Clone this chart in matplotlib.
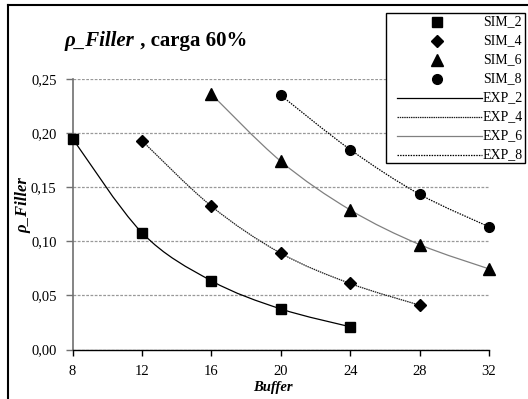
import numpy as np
import matplotlib
matplotlib.use("Agg")
import matplotlib.pyplot as plt
from matplotlib.path import Path
from matplotlib.patches import PathPatch, Rectangle
from matplotlib.lines import Line2D

plt.rcParams['font.family'] = ['Liberation Serif', 'DejaVu Serif']

# ---- data ----
buffer_2 = [8, 12, 16, 20, 24]
sim_2 = [0.195, 0.108, 0.0635, 0.0375, 0.021]
buffer_4 = [12, 16, 20, 24, 28]
sim_4 = [0.193, 0.1325, 0.089, 0.061, 0.041]
buffer_6 = [16, 20, 24, 28, 32]
sim_6 = [0.236, 0.174, 0.129, 0.097, 0.0745]
buffer_8 = [20, 24, 28, 32]
sim_8 = [0.235, 0.1848, 0.1435, 0.1134]

exp_2 = sim_2
exp_4 = sim_4
exp_6 = sim_6
exp_8 = sim_8

x_ticks = [8, 12, 16, 20, 24, 28, 32]
y_ticks = [0.00, 0.05, 0.10, 0.15, 0.20, 0.25]
y_tick_labels = ['0,00', '0,05', '0,10', '0,15', '0,20', '0,25']

sim_labels = ['SIM_2', 'SIM_4', 'SIM_6', 'SIM_8']
exp_labels = ['EXP_2', 'EXP_4', 'EXP_6', 'EXP_8']

W, H = 528, 399
fig = plt.figure(figsize=(W / 100, H / 100), dpi=100)
fig.patch.set_facecolor('white')


def fx(px):
    return px / W


def fy(py):
    return 1 - py / H


ax = fig.add_axes([fx(72.5), fy(349.5), (489 - 72.5) / W, (349.5 - 79) / H])
ax.set_xlim(8, 32)
ax.set_ylim(0, 0.25)
ax.set_xticks(x_ticks)
ax.set_xticklabels([str(t) for t in x_ticks])
ax.set_yticks(y_ticks)
ax.set_yticklabels(y_tick_labels)
ax.set_axisbelow(True)
ax.yaxis.grid(True, linestyle=(0, (2.2, 1.2)), color='#999999', linewidth=0.9)
for s in ['top', 'right']:
    ax.spines[s].set_visible(False)
ax.spines['left'].set_color('#707070')
ax.spines['left'].set_linewidth(1.2)
ax.spines['bottom'].set_color('black')
ax.spines['bottom'].set_linewidth(1.0)
ax.tick_params(axis='y', direction='out', length=5, width=1, color='#707070', pad=6.5, labelsize=10.5)
ax.tick_params(axis='x', direction='out', length=4, width=1, color='black', pad=7, labelsize=10.5)


def smooth_path(xs, ys):
    P = np.column_stack([xs, ys]).astype(float)
    n = len(P)
    verts = [P[0]]
    codes = [Path.MOVETO]
    for i in range(n - 1):
        p0 = P[i - 1] if i > 0 else P[i]
        p1 = P[i]
        p2 = P[i + 1]
        p3 = P[i + 2] if i + 2 < n else P[i + 1]
        c1 = p1 + (p2 - p0) / 6.0
        c2 = p2 - (p3 - p1) / 6.0
        verts += [c1, c2, p2]
        codes += [Path.CURVE4] * 3
    return Path(verts, codes)


line_styles = [
    dict(color='black', lw=0.9, ls='-'),
    dict(color='#202020', lw=0.9, ls=(0, (1.2, 0.6))),
    dict(color='#808080', lw=0.9, ls='-'),
    dict(color='black', lw=0.9, ls=(0, (1.2, 0.9))),
]
markers = [('s', 7), ('D', 6.5), ('^', 8), ('o', 7)]

xs_all = [buffer_2, buffer_4, buffer_6, buffer_8]
exp_all = [exp_2, exp_4, exp_6, exp_8]
sim_all = [sim_2, sim_4, sim_6, sim_8]

for xs, ys, st in zip(xs_all, exp_all, line_styles):
    ax.add_patch(PathPatch(smooth_path(xs, ys), fill=False, edgecolor=st['color'],
                           linewidth=st['lw'], linestyle=st['ls'], zorder=2))
for xs, ys, (m, ms) in zip(xs_all, sim_all, markers):
    ax.plot(xs, ys, linestyle='none', marker=m, markersize=ms, color='black',
            clip_on=False, zorder=3)

# ---- title in two pieces ----
fig.canvas.draw()
r = fig.canvas.get_renderer()
t1 = fig.text(fx(65), fy(46), 'ρ_Filler', fontsize=15, fontweight='bold',
              fontstyle='italic', va='baseline', ha='left')
bb = t1.get_window_extent(r)
fig.text(bb.x1 / W, fy(46), ' , carga 60%', fontsize=15, fontweight='bold',
         va='baseline', ha='left')

# ---- axis labels ----
fig.text(fx(23), fy(205), 'ρ_Filler', fontsize=12, fontweight='bold', fontstyle='italic',
         rotation=90, ha='center', va='center')
fig.text(fx(273), fy(387), 'Buffer', fontsize=10.5, fontweight='bold', fontstyle='italic',
         ha='center', va='center')

# ---- legend (manual) ----
fig.add_artist(Rectangle((fx(386), fy(163)), 139 / W, 150 / H, transform=fig.transFigure,
                         facecolor='white', edgecolor='black', linewidth=1.0, zorder=5))
rows = [22 + 19.0 * i for i in range(8)]
for i, (lab, (m, ms)) in enumerate(zip(sim_labels, markers)):
    fig.add_artist(Line2D([fx(437)], [fy(rows[i])], marker=m, markersize=ms, color='black',
                          linestyle='none', transform=fig.transFigure, zorder=6))
    fig.text(fx(483), fy(rows[i]), lab, fontsize=10, va='center', ha='left', zorder=6)
for j, (lab, st) in enumerate(zip(exp_labels, line_styles)):
    i = j + 4
    fig.add_artist(Line2D([fx(397), fx(482)], [fy(rows[i]), fy(rows[i])], color=st['color'],
                          linewidth=st['lw'], linestyle=st['ls'], transform=fig.transFigure, zorder=6))
    fig.text(fx(483), fy(rows[i]), lab, fontsize=10, va='center', ha='left', zorder=6)

# ---- figure frame (left and top) ----
fig.add_artist(Line2D([fx(8), fx(8)], [0, fy(5)], color='black', lw=1.5, transform=fig.transFigure))
fig.add_artist(Line2D([fx(8), 1], [fy(5), fy(5)], color='black', lw=1.5, transform=fig.transFigure))

fig.savefig('out.png', dpi=100)
